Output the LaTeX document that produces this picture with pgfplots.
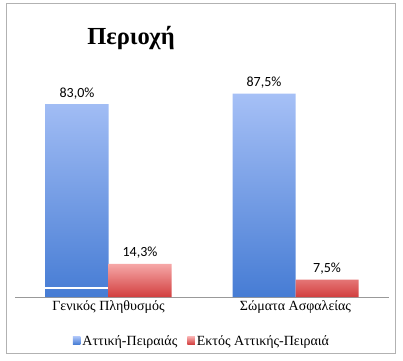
\documentclass[border=0pt]{standalone}
\usepackage{fontspec}
\setmainfont{Liberation Serif}
\newfontfamily\carlito{Carlito}
\usepackage{pgfplots}
\pgfplotsset{compat=1.18}

\definecolor{bluetop}{RGB}{166,192,246}
\definecolor{bluebot}{RGB}{70,124,212}
\definecolor{redtop}{RGB}{246,168,168}
\definecolor{redbot}{RGB}{210,62,62}

\begin{document}
\begin{tikzpicture}[x=1pt,y=1pt]
\useasboundingbox (0,0) rectangle (403,360);
\draw[gray!60, line width=1pt] (6,6.5) rectangle (395,357);
\node[font=\fontsize{24.5}{28}\selectfont\bfseries] at (131,322) {Περιοχή};
\begin{axis}[
  at={(15pt,63pt)}, anchor=south west,
  scale only axis, width=374pt, height=232.5pt,
  xmin=-0.5, xmax=1.5, ymin=0, ymax=100,
  ybar, bar width=63pt,
  axis y line=none, axis x line*=bottom,
  x axis line style={-, gray!80, line width=0.8pt},
  xtick={0,1}, xticklabels={Γενικός Πληθυσμός, Σώματα Ασφαλείας},
  major tick length=0pt,
  xticklabel style={font=\fontsize{14}{16}\selectfont},
  /pgf/number format/fixed, /pgf/number format/fixed zerofill,
  /pgf/number format/precision=1, /pgf/number format/use comma,
  /pgf/number format/assume math mode=true,
  legend style={at={(0.5,-0.19)}, anchor=center, draw=none,
    legend columns=2, font=\fontsize{14}{16}\selectfont,
    /tikz/every even column/.append style={column sep=8pt},
    /tikz/every odd column/.append style={column sep=0pt}},
  legend image code/.code={\fill[#1] (0pt,-3.2pt) rectangle (7.5pt,4.2pt);},
  clip=false,
]
\addplot[draw=none, top color=bluetop, bottom color=bluebot, bar shift=-31.5pt,
  nodes near coords={\pgfmathprintnumber{\pgfplotspointmeta}\%},
  every node near coord/.append style={font=\carlito\fontsize{14}{16}\selectfont, black, yshift=1.5pt}]
  coordinates {(0,83.0) (1,87.5)};
\addlegendentry{Αττική-Πειραιάς}
\addplot[draw=none, top color=redtop, bottom color=redbot, bar shift=31.5pt,
  nodes near coords={\pgfmathprintnumber{\pgfplotspointmeta}\%},
  every node near coord/.append style={font=\carlito\fontsize{14}{16}\selectfont, black, yshift=1.5pt}]
  coordinates {(0,14.3) (1,7.5)};
\addlegendentry{Εκτός Αττικής-Πειραιά}
\addplot[white, line width=2.6pt, sharp plot, bar shift=0pt, forget plot]
  coordinates {(-0.34,3.8) (-0.005,3.8)};
\end{axis}
\end{tikzpicture}
\end{document}
